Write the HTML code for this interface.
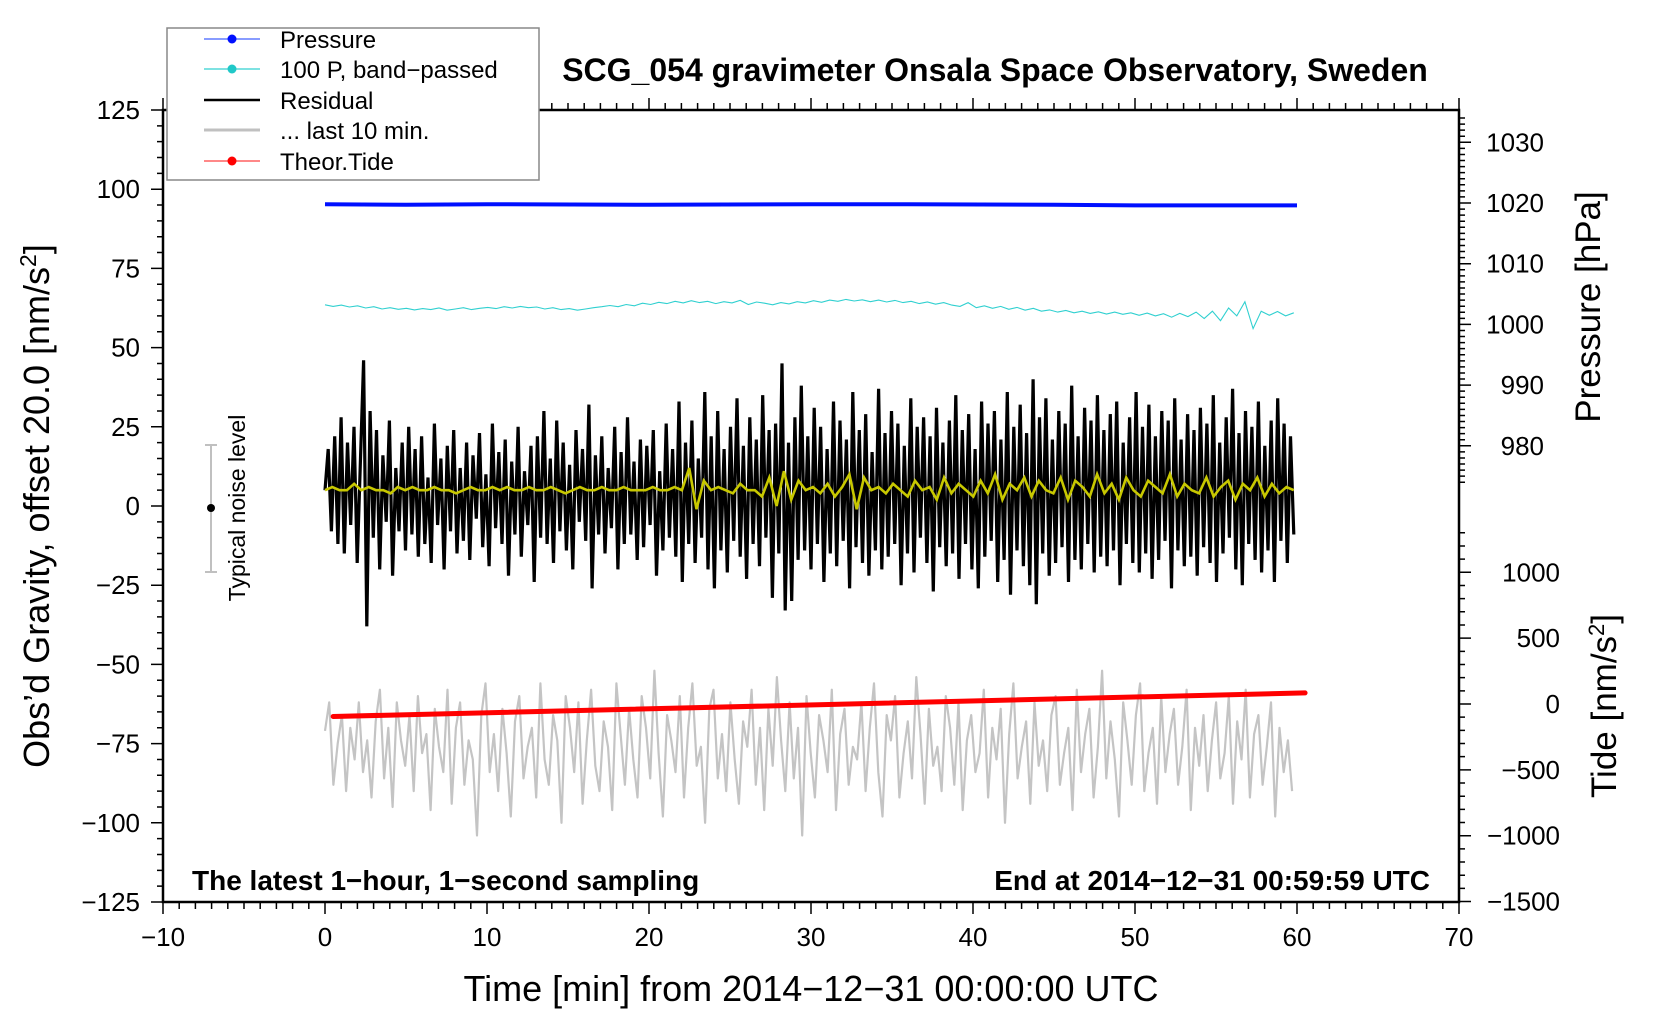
<!DOCTYPE html>
<html><head><meta charset="utf-8"><title>SCG_054 gravimeter</title>
<style>html,body{margin:0;padding:0;background:#fff}svg{display:block}text{font-family:"Liberation Sans",sans-serif}</style></head>
<body>
<svg id="chart" width="1660" height="1020" xmlns="http://www.w3.org/2000/svg"></svg>
<script>
// ---------- data ----------
const xTicks=[-10,0,10,20,30,40,50,60,70];
const yTicks=[-125,-100,-75,-50,-25,0,25,50,75,100,125];
const pTicks=[980,990,1000,1010,1020,1030];
const tTicks=[-1500,-1000,-500,0,500,1000];
const pressureTimes=[0,5,10,20,30,36,45,50,60];
const pressureValues=[1019.8,1019.7,1019.8,1019.7,1019.8,1019.8,1019.7,1019.6,1019.6];
const tideTimes=[0.5,60.5];
const tideValues=[-95,84];
const residual=[5,18,-8,22,-12,28,-15,20,-6,25,-18,14,46,-38,30,-10,24,-20,16,-5,27,-22,12,-8,20,-14,25,-9,18,-16,
22,-12,9,-18,26,-6,15,-20,19,-8,24,-15,12,-11,20,-17,16,-4,23,-13,
10,-19,26,-7,17,-12,21,-22,14,-9,25,-16,11,-6,19,-24,22,-10,30,-12,
15,-18,27,-8,20,-14,13,-20,24,-5,18,-11,32,-26,16,-9,22,-15,12,-7,
25,-20,17,-12,28,-9,14,-17,21,-13,19,-6,24,-22,11,-14,26,-10,18,-16,
33,-24,20,-12,27,-18,15,-10,36,-20,22,-26,30,-14,18,-21,25,-11,34,-16,
19,-23,28,-12,21,-19,35,-10,24,-29,26,-15,45,-33,20,-30,28,-17,38,-14,
22,-20,31,-12,25,-24,18,-15,33,-19,27,-11,21,-26,36,-13,24,-18,29,-22,
17,-14,37,-20,23,-16,30,-12,26,-25,19,-15,34,-21,25,-10,28,-18,22,-27,
31,-13,20,-19,27,-15,35,-23,24,-12,29,-20,18,-26,33,-16,26,-11,30,-24,
21,-17,36,-28,25,-14,32,-19,23,-25,40,-31,28,-15,34,-22,21,-18,30,-13,
26,-24,38,-17,22,-20,31,-12,27,-21,35,-16,24,-19,29,-14,33,-25,20,-12,
28,-18,36,-21,25,-15,32,-23,22,-17,30,-11,27,-26,34,-14,21,-19,29,-16,
24,-22,31,-13,26,-18,35,-24,20,-15,28,-10,37,-20,23,-25,30,-12,25,-17,
33,-21,19,-14,27,-24,34,-11,26,-18,22,-9];
const gray=[-71,-62,-88,-75,-66,-90,-70,-80,-62,-84,-74,-92,-68,-58,-86,-70,-95,-62,-74,-82,-66,-90,-60,-78,-72,-96,-64,-76,-84,-58,
-94,-70,-62,-88,-74,-80,-104,-66,-56,-84,-72,-90,-64,-78,-98,-68,-60,-86,-76,-70,-92,-56,-80,-88,-66,-74,-100,-60,-70,-84,
-62,-94,-74,-58,-82,-90,-68,-76,-96,-56,-72,-88,-64,-80,-92,-60,-70,-86,-52,-78,-98,-66,-74,-84,-60,-92,-70,-56,-82,-76,
-100,-64,-58,-86,-72,-90,-62,-80,-94,-68,-76,-58,-88,-70,-96,-64,-82,-54,-74,-90,-62,-86,-70,-104,-60,-78,-92,-66,-74,-84,
-58,-96,-72,-64,-88,-76,-80,-62,-90,-70,-56,-84,-98,-66,-74,-60,-92,-78,-68,-86,-54,-72,-94,-64,-82,-76,-90,-60,-70,-88,
-62,-96,-74,-66,-84,-78,-58,-92,-70,-80,-64,-100,-72,-56,-86,-76,-68,-94,-62,-82,-74,-90,-66,-60,-88,-78,-70,-96,-58,-84,
-72,-64,-92,-76,-52,-86,-68,-80,-98,-62,-74,-88,-66,-56,-90,-78,-70,-94,-60,-84,-72,-64,-88,-76,-58,-96,-70,-82,-66,-90,
-74,-62,-86,-78,-60,-94,-68,-80,-58,-92,-72,-66,-88,-76,-62,-98,-70,-84,-74,-90];
const cyan=[63.5,63,63.4,62.8,63.2,62.5,62.9,62.2,62.6,62.1,62.4,61.9,62.3,62.0,62.5,61.8,62.2,62.6,62.0,62.4,
62.7,62.3,62.9,62.5,63.0,62.6,62.8,62.2,62.6,62.0,62.3,61.8,62.2,62.6,62.9,63.3,62.9,63.6,63.2,64.0,
63.6,64.3,63.9,64.6,64.1,64.8,64.2,64.6,63.9,64.5,64.1,64.9,63.6,64.4,64.0,63.5,64.2,63.8,64.5,64.1,
64.8,64.3,65.0,64.6,65.2,64.7,65.1,64.5,65.0,64.4,64.9,64.2,64.6,63.9,64.4,63.7,64.2,63.4,63.0,64.2,
62.6,63.2,62.4,63.0,62.1,62.7,61.8,62.4,61.5,61.9,61.2,61.7,61.0,61.5,60.8,61.3,60.6,61.2,60.5,61.0,
60.2,60.9,60.0,60.7,59.6,60.8,59.8,61.2,59.2,61.5,58.5,62.5,60.0,64.5,56.0,61.5,60.2,61.4,60.0,61.0];
const yellow=[5,6,5,5,7,5,6,5,5,4,6,5,6,5,5,6,5,5,4,5,6,5,5,6,5,6,5,5,6,5,
5,6,5,4,5,6,5,5,6,5,5,6,5,5,5,6,5,5,6,5,12,-1,8,5,6,5,4,7,5,5,
3,9,0,11,2,8,5,6,4,7,3,6,10,-1,9,5,6,4,7,5,3,8,5,6,2,9,4,7,5,3,
8,4,10,2,7,5,9,3,8,5,4,9,2,8,6,3,10,4,7,2,9,5,3,8,6,4,10,3,7,5,
4,9,3,6,8,2,7,5,9,3,7,4,6,5];

// ---------- geometry ----------
const L=163,R=1459,T=110,B=902;
const X=t=>L+(t+10)/80*(R-L);
const Y=v=>B-(v+125)/250*(B-T);
const YP=p=>203-(p-1020)*6.07;
const YT=v=>704-v*0.1317;
const NS="http://www.w3.org/2000/svg";
const svg=document.getElementById('chart');
function mk(tag,attrs,parent){const e=document.createElementNS(NS,tag);for(const k in attrs)e.setAttribute(k,attrs[k]);(parent||svg).appendChild(e);return e;}
function txt(s,attrs,parent){const e=mk('text',attrs,parent);e.textContent=s;return e;}
function pts(xs,ys){return xs.map((x,i)=>x.toFixed(1)+','+ys[i].toFixed(1)).join(' ');}
function series(arr,t0,t1){return arr.map((v,i)=>t0+(t1-t0)*i/(arr.length-1));}

// ---------- series ----------
const gGray=mk('polyline',{points:pts(series(gray,0,59.7).map(X),gray.map(Y)),fill:'none',stroke:'#c4c4c4','stroke-width':2.2,'stroke-linejoin':'round'});


const gRes=mk('polyline',{points:pts(series(residual,0,59.8).map(X),residual.map(Y)),fill:'none',stroke:'#000','stroke-width':3.2,'stroke-linejoin':'bevel'});


const gYel=mk('polyline',{points:pts(series(yellow,0,59.8).map(X),yellow.map(Y)),fill:'none',stroke:'#c8c800','stroke-width':2.6});


const gCy=mk('polyline',{points:pts(series(cyan,0,59.8).map(X),cyan.map(Y)),fill:'none',stroke:'#30d0d0','stroke-width':1.1});


const gP=mk('polyline',{points:pts(pressureTimes.map(X),pressureValues.map(YP)),fill:'none',stroke:'#0010ff','stroke-width':4});


const gT=mk('polyline',{points:pts(tideTimes.map(X),tideValues.map(YT)),fill:'none',stroke:'#ff0000','stroke-width':5,'stroke-linecap':'round'});



// ---------- frame & ticks ----------
const frame=mk('rect',{x:L,y:T,width:R-L,height:B-T,fill:'none',stroke:'#000','stroke-width':2.5});


let tk='';
for(let t=-10;t<=70;t++){const x=X(t);const big=t%10===0;tk+=`M${x},${B}v${big?12:7}M${x},${T}v-${big?12:7}`;}
for(let v=-125;v<=125;v+=5){const y=Y(v);tk+=`M${L},${y}h-${v%25===0?12:6}`;}
for(let p=974;p<=1034;p++){const y=YP(p);tk+=`M${R},${y}h${p%10===0?12:6}`;}
for(let v=-1500;v<=1300;v+=100){const y=YT(v);tk+=`M${R},${y}h${v%500===0?12:6}`;}
const ticks=mk('path',{d:tk,stroke:'#000','stroke-width':1.5,fill:'none'});



xTicks.forEach(t=>{const e=txt(String(t).replace('-','\u2212'),{x:X(t),y:946,'font-size':26,'text-anchor':'middle'});

});
yTicks.forEach(v=>{const e=txt(String(v).replace('-','\u2212'),{x:140,y:Y(v)+9,'font-size':26,'text-anchor':'end'});

});
pTicks.forEach(p=>{const e=txt(String(p),{x:1544,y:YP(p)+9,'font-size':26,'text-anchor':'end'});

});
tTicks.forEach(v=>{const e=txt(String(v).replace('-','\u2212'),{x:1560,y:YT(v)+9,'font-size':26,'text-anchor':'end'});

});
</script>
<svg style="position:absolute;left:0;top:0" width="1660" height="1020" xmlns="http://www.w3.org/2000/svg">
 <text x="995" y="81" font-size="32" font-weight="bold" text-anchor="middle" font-family="Liberation Sans">SCG_054 gravimeter Onsala Space Observatory, Sweden</text>
 <text x="811" y="1001" font-size="36" text-anchor="middle" font-family="Liberation Sans">Time [min] from 2014−12−31 00:00:00 UTC</text>
 <text transform="translate(49,506) rotate(-90)" font-size="36" text-anchor="middle" font-family="Liberation Sans">Obs’d Gravity, offset 20.0 [nm/s<tspan dy="-13" font-size="23">2</tspan><tspan dy="13">]</tspan></text>
 <text transform="translate(1600,307) rotate(-90)" font-size="35" text-anchor="middle" font-family="Liberation Sans">Pressure [hPa]</text>
 <text transform="translate(1616,706) rotate(-90)" font-size="35" text-anchor="middle" font-family="Liberation Sans">Tide [nm/s<tspan dy="-12" font-size="22">2</tspan><tspan dy="12">]</tspan></text>
 <text x="192" y="890" font-size="28" font-weight="bold" font-family="Liberation Sans">The latest 1−hour, 1−second sampling</text>
 <text x="1430" y="890" font-size="28" font-weight="bold" text-anchor="end" font-family="Liberation Sans">End at 2014−12−31 00:59:59 UTC</text>
 <g>
  <path d="M211,445V572M205,445h12M205,572h12" stroke="#c0c0c0" stroke-width="2" fill="none"/>
  <circle cx="211" cy="508" r="4" fill="#000"/>
  <text transform="translate(245,508) rotate(-90)" font-size="23" text-anchor="middle" font-family="Liberation Sans">Typical noise level</text>
 </g>
 <g>
  <rect x="167" y="28" width="372" height="152" fill="#fff" stroke="#888" stroke-width="1.5"/>
  <g><path d="M204,39H260" stroke="#4060ff" stroke-width="1.2"/><circle cx="232" cy="39" r="4.5" fill="#0010ff"/><text x="280" y="48" font-size="24" font-family="Liberation Sans">Pressure</text></g>
  <g><path d="M204,69H260" stroke="#30d0d0" stroke-width="1.2"/><circle cx="232" cy="69" r="4.5" fill="#20c8c8"/><text x="280" y="78" font-size="24" font-family="Liberation Sans">100 P, band−passed</text></g>
  <g><path d="M204,100H260" stroke="#000" stroke-width="2.5"/><text x="280" y="109" font-size="24" font-family="Liberation Sans">Residual</text></g>
  <g><path d="M204,130H260" stroke="#c0c0c0" stroke-width="3"/><text x="280" y="139" font-size="24" font-family="Liberation Sans">... last 10 min.</text></g>
  <g><path d="M204,161H260" stroke="#ff4040" stroke-width="1.2"/><circle cx="232" cy="161" r="4.5" fill="#ff0000"/><text x="280" y="170" font-size="24" font-family="Liberation Sans">Theor.Tide</text></g>
 </g>
</svg>
</body></html>
